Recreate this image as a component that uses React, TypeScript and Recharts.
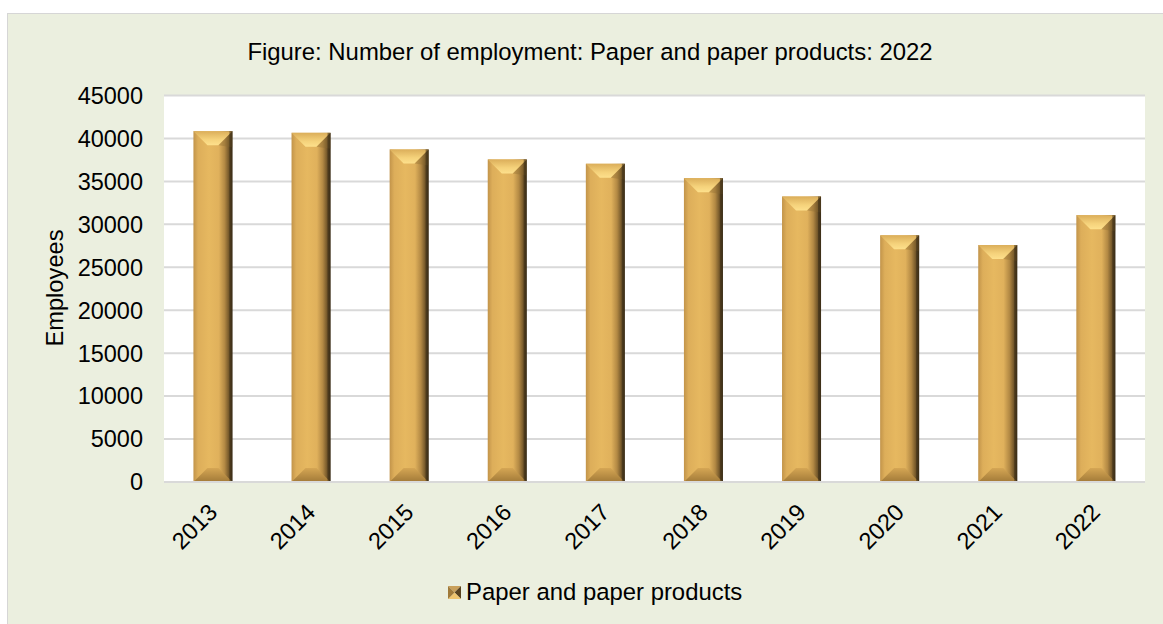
import React from 'react';
import { BarChart, Bar, XAxis, YAxis, CartesianGrid } from 'recharts';

const years = ['2013', '2014', '2015', '2016', '2017', '2018', '2019', '2020', '2021', '2022'];
const employees = [40850, 40650, 38720, 37560, 37050, 35380, 33240, 28720, 27590, 31070];
const yTicks = [0, 5000, 10000, 15000, 20000, 25000, 30000, 35000, 40000, 45000];
const seriesName = 'Paper and paper products';
const titleText = 'Figure: Number of employment: Paper and paper products: 2022';
const yLabel = 'Employees';

const data = years.map((year, i) => ({ year, value: employees[i] }));

const FONT = 'Liberation Sans, Arial, sans-serif';

const GoldBar = (props: any) => {
  const { x, y, width, height } = props;
  if (!width || !height || height <= 0) return null;
  const b = Math.min(14, width * 0.36, height / 2);
  return (
    <g>
      <rect x={x} y={y} width={width} height={height} fill="url(#goldSide)" />
      <polygon
        points={`${x},${y} ${x + width},${y} ${x + width - b},${y + b} ${x + b},${y + b}`}
        fill="url(#goldTop)"
      />
      <polygon
        points={`${x + width - b},${y + b} ${x + width},${y} ${x + width},${y + b + 2}`}
        fill="#8a6a32"
        opacity={0.35}
      />
      <polygon
        points={`${x},${y + height} ${x + width},${y + height} ${x + width - b},${y + height - b} ${x + b},${y + height - b}`}
        fill="url(#goldBottom)"
      />
      <rect x={x + width - 3} y={y} width={3} height={height} fill="#3b2d17" opacity={0.55} />
    </g>
  );
};

const XTick = (props: any) => {
  const { x, y, payload } = props;
  return (
    <g transform={`translate(${x},${y + 26})`}>
      <text
        x={0}
        y={0}
        textAnchor="end"
        dominantBaseline="central"
        transform="rotate(-45)"
        fontFamily={FONT}
        fontSize={23.5}
        fill="#000"
      >
        {payload.value}
      </text>
    </g>
  );
};

export default function App() {
  return (
    <div style={{ position: 'absolute', left: 0, top: 0, width: 1163, height: 624, overflow: 'hidden', background: '#fff' }}>
      <div
        style={{
          position: 'absolute',
          left: 7,
          top: 13,
          width: 1160,
          height: 620,
          background: '#EBEFDF',
          border: '1.5px solid #D6D6D6',
          boxSizing: 'border-box',
        }}
      />
      <div
        style={{
          position: 'absolute',
          left: 0,
          width: 1180,
          top: 37,
          textAlign: 'center',
          fontFamily: FONT,
          fontSize: 23.9,
          lineHeight: '30px',
          color: '#000',
          whiteSpace: 'nowrap',
        }}
      >
        {titleText}
      </div>
      <div style={{ position: 'absolute', left: 0, top: 0 }}>
        <BarChart
          width={1163}
          height={624}
          data={data}
          margin={{ top: 95.5, right: 18, left: 104, bottom: 62 }}
          barCategoryGap="30%"
        >
          <defs>
            <linearGradient id="goldSide" x1="0" y1="0" x2="1" y2="0">
              <stop offset="0%" stopColor="#C2944A" />
              <stop offset="12%" stopColor="#DDAE5A" />
              <stop offset="40%" stopColor="#E6B860" />
              <stop offset="65%" stopColor="#E0B15C" />
              <stop offset="80%" stopColor="#B38944" />
              <stop offset="92%" stopColor="#6E5328" />
              <stop offset="100%" stopColor="#3A2C16" />
            </linearGradient>
            <linearGradient id="goldTop" x1="0" y1="0" x2="0" y2="1">
              <stop offset="0%" stopColor="#DBAE5A" />
              <stop offset="60%" stopColor="#F5D27B" />
              <stop offset="100%" stopColor="#FDE08C" />
            </linearGradient>
            <linearGradient id="goldBottom" x1="0" y1="0" x2="0" y2="1">
              <stop offset="0%" stopColor="#D5A654" />
              <stop offset="100%" stopColor="#A27A38" />
            </linearGradient>
          </defs>
          <CartesianGrid vertical={false} stroke="#D9D9D9" strokeWidth={2} fill="#FFFFFF" />
          <XAxis
            dataKey="year"
            interval={0}
            height={80}
            tickLine={false}
            axisLine={{ stroke: '#D9D9D9', strokeWidth: 2 }}
            tickSize={0}
            tickMargin={0}
            tick={<XTick />}
          />
          <YAxis
            width={60}
            domain={[0, 45000]}
            ticks={yTicks}
            interval={0}
            axisLine={false}
            tickLine={false}
            tickSize={6}
            tickMargin={15}
            tick={{ fontFamily: FONT, fontSize: 23.5, fill: '#000' }}
          />
          <Bar dataKey="value" name={seriesName} shape={<GoldBar />} isAnimationActive={false} />
        </BarChart>
      </div>
      <div
        style={{
          position: 'absolute',
          left: 0,
          top: 0,
          width: 1163,
          height: 624,
          pointerEvents: 'none',
        }}
      >
        <div
          style={{
            position: 'absolute',
            left: 41,
            top: 288,
            transform: 'translate(-50%, -50%) rotate(-90deg)',
            transformOrigin: 'center',
            fontFamily: FONT,
            fontSize: 23.7,
            lineHeight: '28px',
            color: '#000',
            whiteSpace: 'nowrap',
            marginLeft: 14,
          }}
        >
          {yLabel}
        </div>
        <div
          style={{
            position: 'absolute',
            left: 448,
            top: 577,
            display: 'flex',
            alignItems: 'center',
            fontFamily: FONT,
            fontSize: 23.9,
            lineHeight: '30px',
            color: '#000',
            whiteSpace: 'nowrap',
          }}
        >
          <svg width={13} height={13} style={{ marginRight: 5 }}>
            <polygon points="0,0 13,0 6.5,6.5" fill="#C9A05A" />
            <polygon points="13,0 13,13 6.5,6.5" fill="#5A4420" />
            <polygon points="0,13 13,13 6.5,6.5" fill="#F0C56E" />
            <polygon points="0,0 0,13 6.5,6.5" fill="#A07A3A" />
          </svg>
          <span>{seriesName}</span>
        </div>
      </div>
    </div>
  );
}
